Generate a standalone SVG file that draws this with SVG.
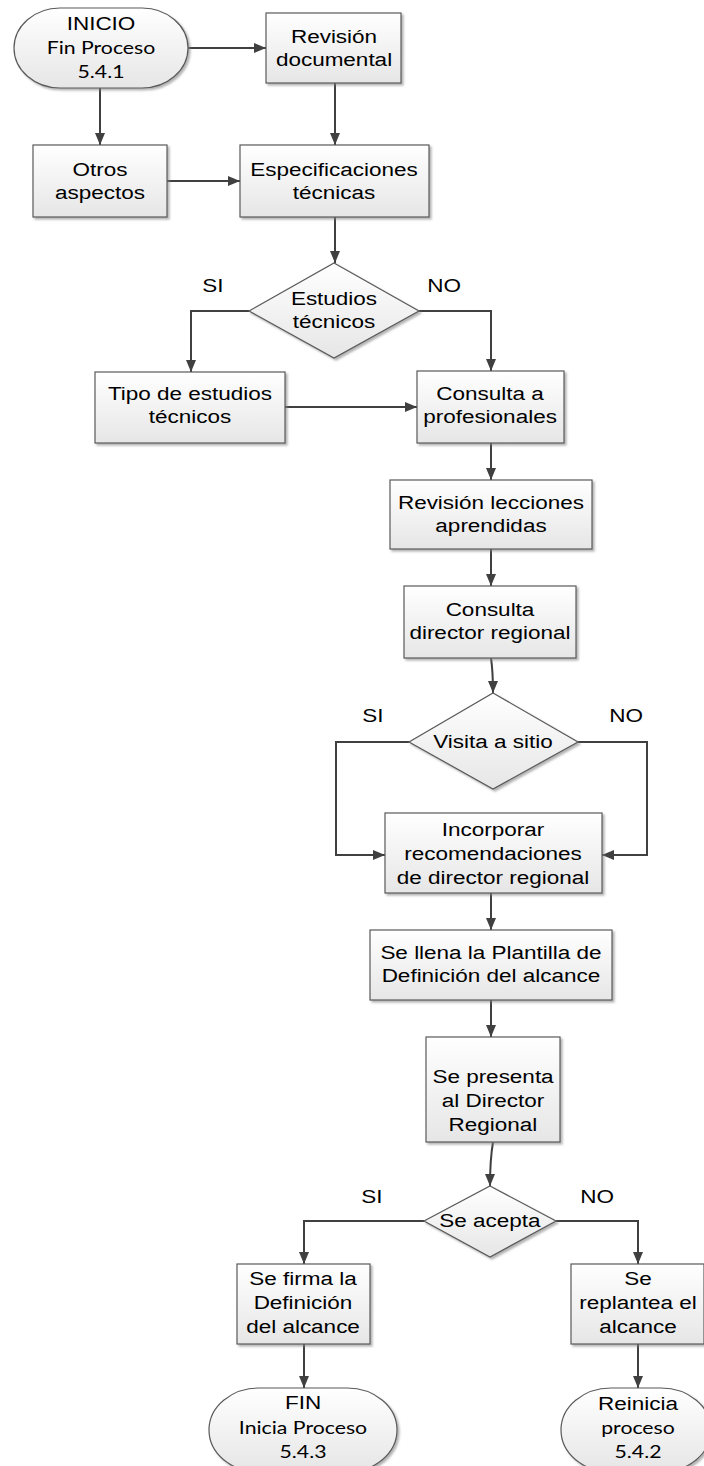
<svg xmlns="http://www.w3.org/2000/svg" width="704" height="1466" viewBox="0 0 704 1466">
  <style>
    .shape { fill: url(#fillGrad); stroke: #5a5a5a; stroke-width: 1.2; filter: url(#shadow); }
    .t { font-family: "Liberation Sans", Arial, sans-serif; font-size: 18px; fill: #000; text-anchor: middle; }
    .c { font-family: Lato, "Liberation Sans", sans-serif; font-size: 17px; fill: #000; text-anchor: middle; }
    .conn path { fill: none; stroke: #404040; stroke-width: 2; marker-end: url(#arrow); }
  </style>
  <defs>
    <linearGradient id="fillGrad" x1="0" y1="0" x2="0" y2="1">
      <stop offset="0" stop-color="#ffffff"/>
      <stop offset="1" stop-color="#e6e6e6"/>
    </linearGradient>
    <filter id="shadow" x="-10%" y="-10%" width="125%" height="130%">
      <feDropShadow dx="2" dy="2" stdDeviation="1.2" flood-color="#808080" flood-opacity="0.6"/>
    </filter>
    <marker id="arrow" markerWidth="12" markerHeight="12" viewBox="0 0 12 12" refX="12" refY="6" orient="auto" markerUnits="userSpaceOnUse">
      <path d="M0,1 L12,6 L0,11 Z" fill="#404040"/>
    </marker>
  </defs>

  <!-- connectors -->
  <g id="connectors" class="conn">
    <path d="M188,48 H266"/>
    <path d="M100,88 V145"/>
    <path d="M335,83 V145"/>
    <path d="M167,181 H240"/>
    <path d="M335,217 V263"/>
    <path d="M249,311 H191 V372"/>
    <path d="M419,311 H491 V371"/>
    <path d="M285,407 H417"/>
    <path d="M491,443 V480"/>
    <path d="M491,549 V586"/>
    <path d="M491,658 Q493,672 493,693"/>
    <path d="M409,742 H336 V855 H385"/>
    <path d="M578,742 H647 V855 H602"/>
    <path d="M491,893 V930"/>
    <path d="M491,1000 V1037"/>
    <path d="M493,1142 Q490,1160 490,1186"/>
    <path d="M424,1221 H304 V1264"/>
    <path d="M556,1221 H638 V1264"/>
    <path d="M304,1344 V1388"/>
    <path d="M638,1344 V1388"/>
  </g>

  <!-- branch labels -->
  <g id="labels">
    <text class="t" transform="translate(213,0) scale(1.25,1)" x="0" y="292">SI</text>
    <text class="t" transform="translate(444,0) scale(1.25,1)" x="0" y="292">NO</text>
    <text class="t" transform="translate(373,0) scale(1.25,1)" x="0" y="722">SI</text>
    <text class="t" transform="translate(626,0) scale(1.25,1)" x="0" y="722">NO</text>
    <text class="t" transform="translate(372,0) scale(1.25,1)" x="0" y="1203">SI</text>
    <text class="t" transform="translate(597,0) scale(1.25,1)" x="0" y="1203">NO</text>
  </g>

  <g id="inicio">
    <rect class="shape" x="14" y="8" width="174" height="80" rx="46" ry="40"/>
    <text class="t" transform="translate(101,0) scale(1.25,1)" x="0" y="30">INICIO</text>
    <text class="c" transform="translate(101,0) scale(1.25,1)" x="0" y="54">Fin Proceso</text>
    <text class="c" transform="translate(101,0) scale(1.25,1)" x="0" y="78">5.4.1</text>
  </g>

  <g id="revision-documental">
    <rect class="shape" x="266" y="13" width="135" height="70"/>
    <text class="t" transform="translate(334,0) scale(1.25,1)"><tspan x="0" y="43">Revisión</tspan><tspan x="0" y="66">documental</tspan></text>
  </g>

  <g id="otros-aspectos">
    <rect class="shape" x="33" y="145" width="134" height="72"/>
    <text class="t" transform="translate(100,0) scale(1.25,1)"><tspan x="0" y="176">Otros</tspan><tspan x="0" y="199">aspectos</tspan></text>
  </g>

  <g id="especificaciones">
    <rect class="shape" x="240" y="145" width="189" height="72"/>
    <text class="t" transform="translate(334,0) scale(1.25,1)"><tspan x="0" y="176">Especificaciones</tspan><tspan x="0" y="199">técnicas</tspan></text>
  </g>

  <g id="estudios-tecnicos">
    <polygon class="shape" points="334,263 419,311 334,358 249,311"/>
    <text class="t" transform="translate(334,0) scale(1.25,1)"><tspan x="0" y="305">Estudios</tspan><tspan x="0" y="328">técnicos</tspan></text>
  </g>

  <g id="tipo-estudios">
    <rect class="shape" x="95" y="372" width="190" height="71"/>
    <text class="t" transform="translate(190,0) scale(1.25,1)"><tspan x="0" y="400">Tipo de estudios</tspan><tspan x="0" y="423">técnicos</tspan></text>
  </g>

  <g id="consulta-profesionales">
    <rect class="shape" x="417" y="371" width="147" height="72"/>
    <text class="t" transform="translate(490,0) scale(1.25,1)"><tspan x="0" y="400">Consulta a</tspan><tspan x="0" y="423">profesionales</tspan></text>
  </g>

  <g id="lecciones">
    <rect class="shape" x="390" y="480" width="202" height="69"/>
    <text class="t" transform="translate(491,0) scale(1.25,1)"><tspan x="0" y="509">Revisión lecciones</tspan><tspan x="0" y="532">aprendidas</tspan></text>
  </g>

  <g id="consulta-director">
    <rect class="shape" x="404" y="586" width="172" height="72"/>
    <text class="t" transform="translate(490,0) scale(1.25,1)"><tspan x="0" y="616">Consulta</tspan><tspan x="0" y="639">director regional</tspan></text>
  </g>

  <g id="visita-sitio">
    <polygon class="shape" points="493,693 578,742 493,789 409,742"/>
    <text class="t" transform="translate(493,0) scale(1.25,1)" x="0" y="748">Visita a sitio</text>
  </g>

  <g id="incorporar">
    <rect class="shape" x="385" y="813" width="217" height="80"/>
    <text class="t" transform="translate(493,0) scale(1.25,1)"><tspan x="0" y="836">Incorporar</tspan><tspan x="0" y="860">recomendaciones</tspan><tspan x="0" y="884">de director regional</tspan></text>
  </g>

  <g id="plantilla">
    <rect class="shape" x="370" y="930" width="242" height="70"/>
    <text class="t" transform="translate(491,0) scale(1.25,1)"><tspan x="0" y="959">Se llena la Plantilla de</tspan><tspan x="0" y="982">Definición del alcance</tspan></text>
  </g>

  <g id="presenta">
    <rect class="shape" x="426" y="1037" width="134" height="105"/>
    <text class="t" transform="translate(493,0) scale(1.25,1)"><tspan x="0" y="1083">Se presenta</tspan><tspan x="0" y="1107">al Director</tspan><tspan x="0" y="1131">Regional</tspan></text>
  </g>

  <g id="se-acepta">
    <polygon class="shape" points="490,1186 556,1221 490,1257 424,1221"/>
    <text class="t" transform="translate(490,0) scale(1.25,1)" x="0" y="1227">Se acepta</text>
  </g>

  <g id="firma">
    <rect class="shape" x="237" y="1264" width="133" height="80"/>
    <text class="t" transform="translate(303,0) scale(1.25,1)"><tspan x="0" y="1285">Se firma la</tspan><tspan x="0" y="1309">Definición</tspan><tspan x="0" y="1333">del alcance</tspan></text>
  </g>

  <g id="replantea">
    <rect class="shape" x="571" y="1264" width="133" height="80"/>
    <text class="t" transform="translate(638,0) scale(1.25,1)"><tspan x="0" y="1285">Se</tspan><tspan x="0" y="1309">replantea el</tspan><tspan x="0" y="1333">alcance</tspan></text>
  </g>

  <g id="fin">
    <rect class="shape" x="209" y="1388" width="188" height="84" rx="50" ry="42"/>
    <text class="t" transform="translate(303,0) scale(1.25,1)" x="0" y="1409">FIN</text>
    <text class="c" transform="translate(303,0) scale(1.25,1)" x="0" y="1434">Inicia Proceso</text>
    <text class="c" transform="translate(303,0) scale(1.25,1)" x="0" y="1458">5.4.3</text>
  </g>

  <g id="reinicia">
    <rect class="shape" x="561" y="1388" width="150" height="84" rx="50" ry="42"/>
    <text class="t" transform="translate(638,0) scale(1.25,1)" x="0" y="1410">Reinicia</text>
    <text class="c" transform="translate(638,0) scale(1.25,1)" x="0" y="1434">proceso</text>
    <text class="c" transform="translate(638,0) scale(1.25,1)" x="0" y="1458">5.4.2</text>
  </g>
</svg>
